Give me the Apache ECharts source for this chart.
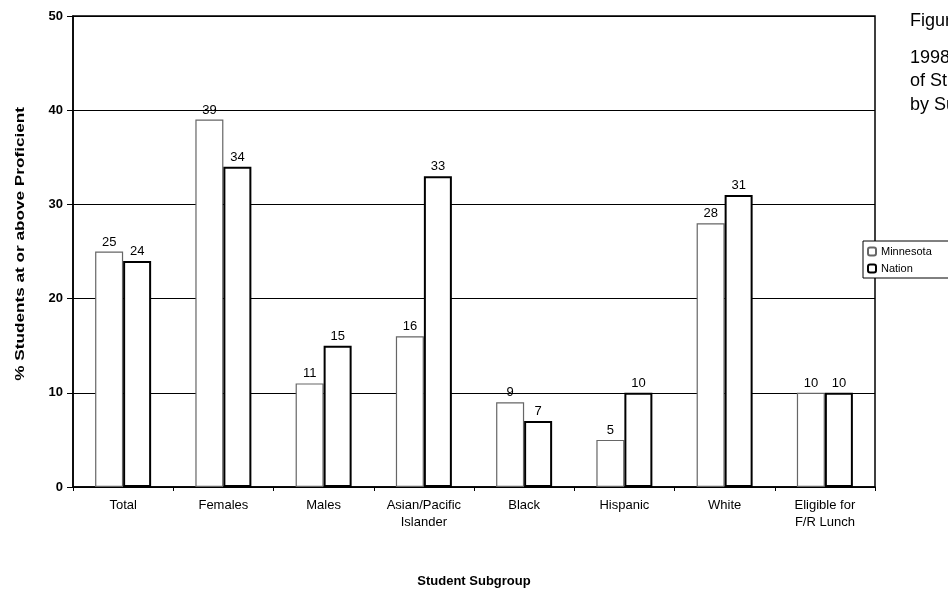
<!DOCTYPE html>
<html>
<head>
<meta charset="utf-8">
<script src="https://cdn.jsdelivr.net/npm/echarts@6/dist/echarts.min.js"></script>
<style>html,body{margin:0;padding:0;background:#fff}#c{width:948px;height:593px}</style>
</head>
<body>
<div id="c"></div>
<script>
var categories = ['Total', 'Females', 'Males', 'Asian/Pacific\nIslander', 'Black', 'Hispanic', 'White', 'Eligible for\nF/R Lunch'];
var minnesota = [25, 39, 11, 16, 9, 5, 28, 10];
var nation = [24, 34, 15, 33, 7, 10, 31, 10];
var yTicks = [0, 10, 20, 30, 40, 50];

var FONT = '"Liberation Sans", Arial, sans-serif';
var chart = echarts.init(document.getElementById('c'), null, {renderer: 'canvas'});
chart.setOption({
  animation: false,
  backgroundColor: '#fff',
  textStyle: {fontFamily: FONT},
  grid: {left: 73, right: 73, top: 16, bottom: 105, show: true, borderColor: '#000', borderWidth: 1.5},
  legend: {
    data: ['Minnesota', 'Nation'],
    orient: 'vertical',
    left: 863, top: 241,
    itemWidth: 8, itemHeight: 8, itemGap: 6,
    padding: [5, 30, 4, 4],
    borderColor: '#000', borderWidth: 1,
    backgroundColor: '#fff',
    textStyle: {fontSize: 11, color: '#000', fontFamily: FONT}
  },
  xAxis: {
    type: 'category',
    data: categories,
    name: 'Student Subgroup',
    nameLocation: 'middle',
    nameGap: 88,
    nameTextStyle: {fontWeight: 'bold', fontSize: 13, color: '#000', fontFamily: FONT},
    axisLine: {lineStyle: {color: '#000', width: 1.5}},
    axisTick: {show: true, alignWithLabel: false, lineStyle: {color: '#000'}, length: 4},
    axisLabel: {color: '#000', fontSize: 13, margin: 10, lineHeight: 17, fontFamily: FONT}
  },
  yAxis: {
    type: 'value',
    min: 0, max: 50, interval: 10,
    axisLine: {show: true, lineStyle: {color: '#000', width: 1.5}},
    axisTick: {show: true, lineStyle: {color: '#000'}, length: 6},
    axisLabel: {color: '#000', fontSize: 13, fontWeight: 'bold', margin: 10, fontFamily: FONT,
      formatter: function (v) { return yTicks.indexOf(v) >= 0 ? String(v) : ''; }},
    splitLine: {show: true, lineStyle: {color: '#000', width: 1.2}}
  },
  series: [
    {
      name: 'Minnesota', type: 'bar', data: minnesota,
      barWidth: 28, barGap: '0%',
      itemStyle: {color: '#fff', borderColor: '#666', borderWidth: 1.2},
      label: {show: true, position: 'top', distance: 3, color: '#000', fontSize: 13, fontFamily: FONT}
    },
    {
      name: 'Nation', type: 'bar', data: nation,
      barWidth: 28,
      itemStyle: {color: '#fff', borderColor: '#000', borderWidth: 2},
      label: {show: true, position: 'top', distance: 3, color: '#000', fontSize: 13, fontFamily: FONT}
    }
  ],
  graphic: [
    {type: 'text', left: 14, top: 107, rotation: Math.PI / 2, scaleX: 1.32,
      style: {text: '% Students at or above Proficient', font: 'bold 13px ' + FONT, fill: '#000'}},
    {type: 'text', left: 910, top: 12, style: {text: 'Figure 5', font: '18px ' + FONT, fill: '#000'}},
    {type: 'text', left: 910, top: 46, style: {text: '1998 Reading Achievement\nof Students at or above Proficient\nby Subgroup', font: '18px ' + FONT, lineHeight: 23.5, fill: '#000'}}
  ]
});
</script>
</body>
</html>
